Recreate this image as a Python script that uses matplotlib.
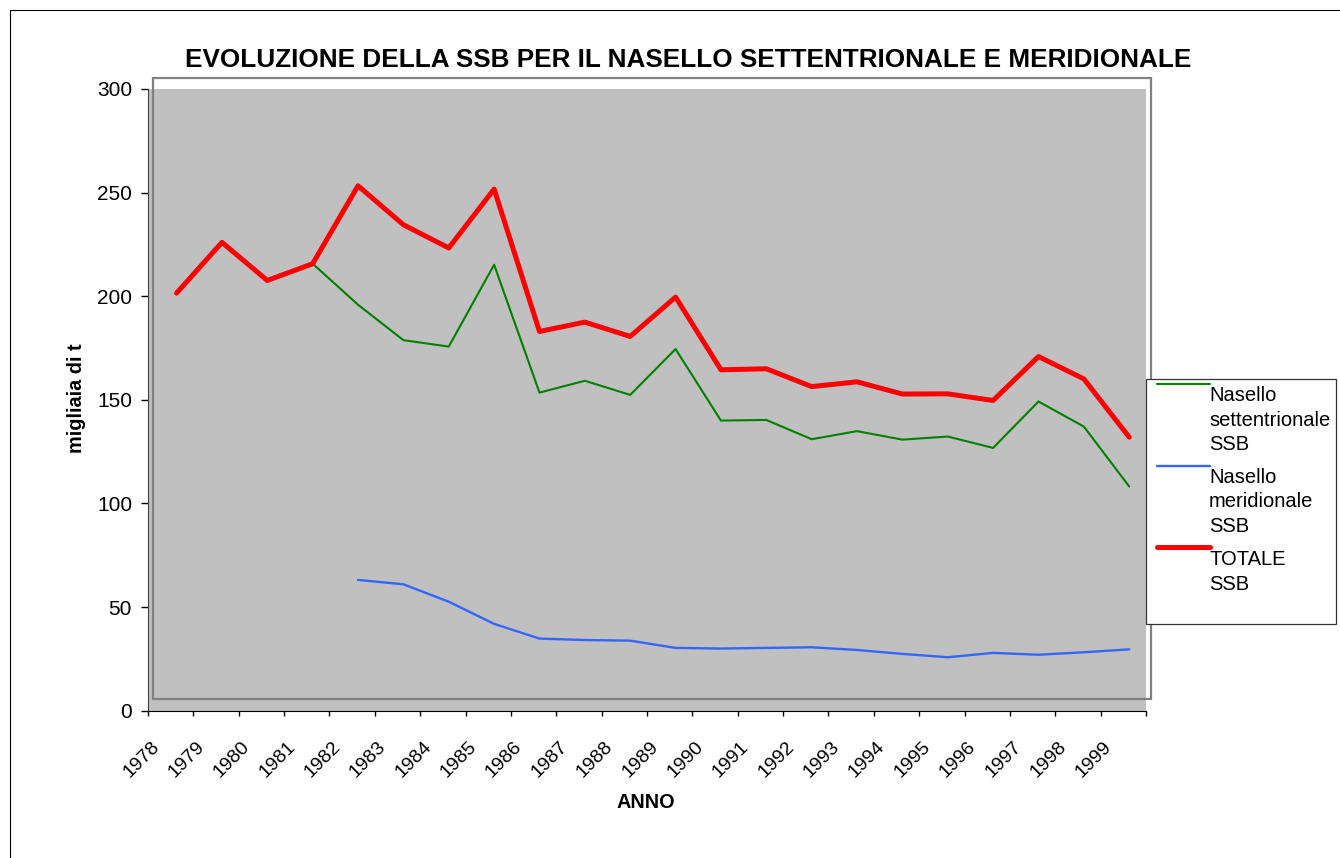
import numpy as np
import matplotlib.pyplot as plt
from matplotlib.patches import Rectangle
from matplotlib.lines import Line2D

plt.rcParams['font.family'] = ['Liberation Sans', 'DejaVu Sans']

W, H = 1340, 858
GRAY_BG = '#C0C0C0'
FRAME_COLOR = '#808080'

# SSB (migliaia di t) per anno
years = [str(y) for y in range(1978, 2000)]
nord = [201.5, 226.0, 207.6, 215.7, 195.9, 178.8, 175.7, 215.2, 153.5, 159.2, 152.4,
        174.5, 140.0, 140.3, 131.0, 134.9, 130.8, 132.3, 126.8, 149.2, 137.1, 108.2]
sud = [np.nan, np.nan, np.nan, np.nan, 63.1, 61.0, 52.6, 41.9, 34.8, 34.1, 33.8,
       30.3, 30.0, 30.3, 30.6, 29.3, 27.4, 25.8, 27.9, 27.0, 28.2, 29.6]
totale = [201.5, 226.0, 207.6, 215.7, 253.3, 234.5, 223.3, 251.7, 183.0, 187.5, 180.6,
          199.6, 164.5, 165.0, 156.4, 158.7, 152.8, 152.9, 149.7, 170.9, 160.1, 132.0]

series = [
    ('Nasello\nsettentrionale\nSSB', nord, '#008000', 1.5),
    ('Nasello\nmeridionale\nSSB', sud, '#3366FF', 1.7),
    ('TOTALE\nSSB', totale, '#FF0000', 3.6),
]


# pixel -> figure fraction helpers
def fx(px):
    return px / W


def fy(py):
    return 1 - py / H


fig = plt.figure(figsize=(W / 100, H / 100), dpi=100)
ax = fig.add_axes([fx(148), fy(710.7), fx(1146) - fx(148), fy(89) - fy(710.7)])
ax.set_facecolor(GRAY_BG)

x = np.arange(len(years)) + 0.63
for label, vals, color, lw in series:
    ax.plot(x, vals, color=color, lw=lw, solid_capstyle='round', solid_joinstyle='round')

ax.set_xlim(0, len(years))
ax.set_ylim(0, 300)

# y axis
ax.set_yticks(range(0, 301, 50))
ax.tick_params(axis='y', direction='out', length=5, width=1, pad=6.5, labelsize=15)

# x axis: category ticks on the boundaries, year labels next to them
ax.set_xticks(np.arange(len(years) + 1))
ax.set_xticklabels([])
ax.tick_params(axis='x', which='major', direction='out', length=3.6, width=1)
ax.set_xticks(np.arange(len(years)) + 0.32, minor=True)
ax.set_xticklabels(years, minor=True, rotation=45, ha='right', fontsize=14)
ax.tick_params(axis='x', which='minor', length=0, pad=20)

for side in ['top', 'right']:
    ax.spines[side].set_visible(False)
ax.spines['left'].set_color('#404040')
ax.spines['bottom'].set_color('black')

# outer frame of the plot area
fig.patches.append(Rectangle((fx(153), fy(699)), fx(1151) - fx(153), fy(78) - fy(699),
                             transform=fig.transFigure, fill=False,
                             ec=FRAME_COLOR, lw=1.6, zorder=1))

# chart border
fig.patches.append(Rectangle((fx(10), fy(870)), fx(1360) - fx(10), fy(10) - fy(870),
                             transform=fig.transFigure, fill=False,
                             ec='black', lw=0.8, zorder=1))

fig.text(fx(688), fy(60), 'EVOLUZIONE DELLA SSB PER IL NASELLO SETTENTRIONALE E MERIDIONALE',
         ha='center', va='center', fontsize=18.8, fontweight='bold')
fig.text(fx(76), fy(398), 'migliaia di t', rotation=90, ha='center', va='center',
         fontsize=14.3, fontweight='bold')
fig.text(fx(646), fy(802), 'ANNO', ha='center', va='center', fontsize=14.3, fontweight='bold')

# legend box drawn by hand
fig.patches.append(Rectangle((fx(1146), fy(624)), fx(1336) - fx(1146), fy(379) - fy(624),
                             transform=fig.transFigure, fc='white', ec='#333333',
                             lw=0.9, zorder=3))
handle_y = [384, 466, 547]
text_y = [420, 502, 572]
for (label, vals, color, lw), hy, ty in zip(series, handle_y, text_y):
    fig.lines.append(Line2D([fx(1157), fx(1210)], [fy(hy), fy(hy)], transform=fig.transFigure,
                            color=color, lw=lw, solid_capstyle='round', zorder=4))
    fig.text(fx(1209), fy(ty), label, ha='left', va='center', fontsize=14.5,
             linespacing=1.35, zorder=5)

plt.savefig('out.png', dpi=100)
